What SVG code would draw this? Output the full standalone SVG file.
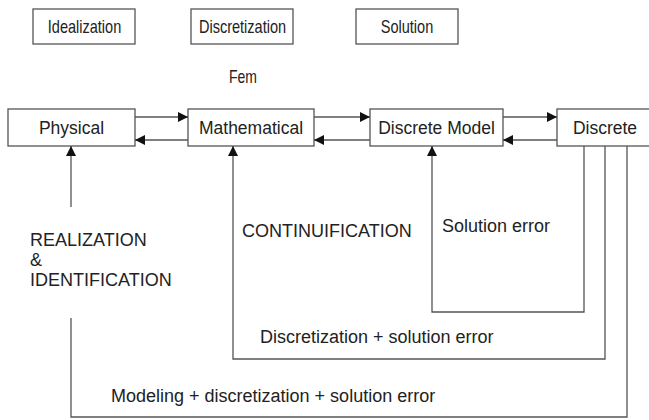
<svg xmlns="http://www.w3.org/2000/svg" width="649" height="420" viewBox="0 0 649 420">
<style>
.box{fill:#fff;stroke:#555;stroke-width:1.3}
.ln{fill:none;stroke:#555;stroke-width:1.3}
text{font-family:"Liberation Sans",Arial,sans-serif;fill:#222}
.t{font-size:17.5px;text-anchor:middle}
.m{font-size:17.5px;text-anchor:middle}
.l{font-size:18px}
</style>
<defs>
<marker id="ah" viewBox="0 0 10 10" refX="10" refY="5" markerWidth="10" markerHeight="10" markerUnits="userSpaceOnUse" orient="auto">
<path d="M0,0 L10,5 L0,10 Z" fill="#111"/>
</marker>
</defs>
<rect width="649" height="420" fill="#fff"/>
<g id="idealization"><rect class="box" x="33" y="9" width="102" height="35"/><text class="t" transform="translate(84.5,33) scale(0.83,1)">Idealization</text></g>
<g id="discretization"><rect class="box" x="191" y="9" width="102" height="35"/><text class="t" transform="translate(242.5,33) scale(0.83,1)">Discretization</text></g>
<g id="solution"><rect class="box" x="356" y="9" width="102" height="35"/><text class="t" transform="translate(407,33) scale(0.83,1)">Solution</text></g>
<g id="fem"><text class="t" transform="translate(243,83) scale(0.8,1)">Fem</text></g>
<g id="physical"><rect class="box" x="8" y="109" width="127" height="37"/><text class="m" x="71.5" y="134">Physical</text></g>
<g id="mathematical"><rect class="box" x="188" y="109" width="126" height="37"/><text class="m" x="251" y="134">Mathematical</text></g>
<g id="discrete-model"><rect class="box" x="370" y="109" width="133" height="37"/><text class="m" x="436.5" y="134">Discrete Model</text></g>
<g id="discrete"><rect class="box" x="557" y="109" width="98" height="37"/><text class="m" x="605" y="134">Discrete</text></g>
<g id="labels">
<text class="l" x="30" y="246">REALIZATION</text>
<text class="l" x="30" y="266">&amp;</text>
<text class="l" x="30" y="286">IDENTIFICATION</text>
<text class="l" x="242" y="237">CONTINUIFICATION</text>
<text class="l" x="442" y="232">Solution error</text>
<text class="l" x="260" y="343">Discretization + solution error</text>
<text class="l" x="111" y="402">Modeling + discretization + solution error</text>
</g>
<g id="connectors">
<line class="ln" x1="135" y1="117" x2="188" y2="117" marker-end="url(#ah)"/>
<line class="ln" x1="188" y1="140" x2="135" y2="140" marker-end="url(#ah)"/>
<line class="ln" x1="314" y1="117" x2="370" y2="117" marker-end="url(#ah)"/>
<line class="ln" x1="370" y1="140" x2="314" y2="140" marker-end="url(#ah)"/>
<line class="ln" x1="503" y1="117" x2="557" y2="117" marker-end="url(#ah)"/>
<line class="ln" x1="557" y1="140" x2="503" y2="140" marker-end="url(#ah)"/>
<line class="ln" x1="71" y1="207" x2="71" y2="146" marker-end="url(#ah)"/>
<polyline class="ln" points="584,146 584,312 432,312 432,146" marker-end="url(#ah)"/>
<polyline class="ln" points="605,146 605,359 233,359 233,146" marker-end="url(#ah)"/>
<polyline class="ln" points="627,146 627,417 71,417 71,318"/>
</g>
</svg>
